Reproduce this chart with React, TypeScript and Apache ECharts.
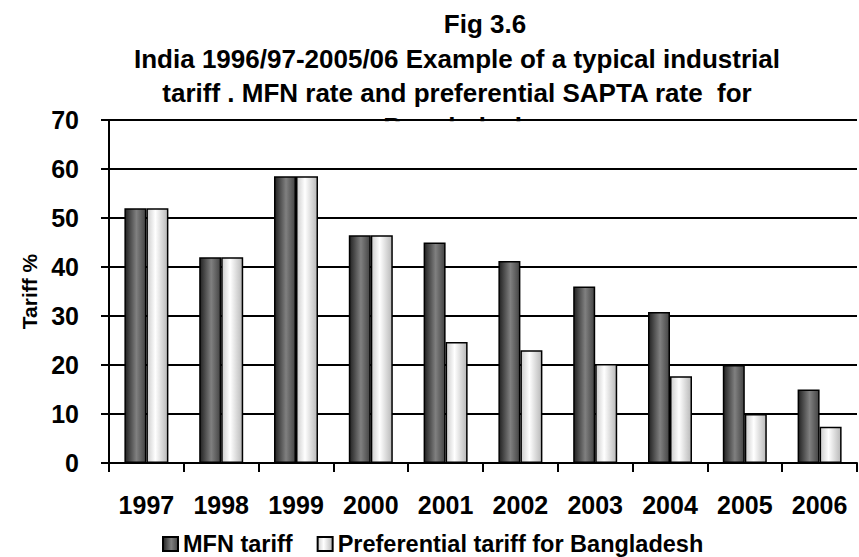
import React, { useEffect, useRef } from "react";
import * as echarts from "echarts";

const years = ["1997", "1998", "1999", "2000", "2001", "2002", "2003", "2004", "2005", "2006"];
const mfnTariff = [52, 42, 58.5, 46.5, 45, 41.2, 36, 30.8, 20, 15];
const prefTariff = [52, 42, 58.5, 46.5, 24.7, 23, 20.2, 17.7, 10, 7.4];
const seriesNames = ["MFN tariff", "Preferential tariff for Bangladesh"];
const titleTop = "Fig 3.6";
const titleBody =
  "India 1996/97-2005/06 Example of a typical industrial\ntariff . MFN rate and preferential SAPTA rate  for\nBangladesh";
const yAxisName = "Tariff %";

const FONT = "'Liberation Sans', Arial, Helvetica, sans-serif";

export default function App() {
  const ref = useRef<HTMLDivElement>(null);
  useEffect(() => {
    document.body.style.margin = "0";
    const chart = echarts.init(ref.current!, null, { renderer: "svg" });
    const mfnGrad = new echarts.graphic.LinearGradient(0, 0, 1, 0, [
      { offset: 0, color: "#222222" },
      { offset: 0.55, color: "#808080" },
      { offset: 1, color: "#444444" },
    ]);
    const prefGrad = new echarts.graphic.LinearGradient(0, 0, 1, 0, [
      { offset: 0, color: "#cccccc" },
      { offset: 0.4, color: "#ffffff" },
      { offset: 1, color: "#b8b8b8" },
    ]);
    const titleStyle = {
      fontSize: 26,
      fontWeight: "bold" as const,
      fontFamily: FONT,
      color: "#000",
      lineHeight: 34,
    };
    chart.setOption({
      animation: false,
      backgroundColor: "#fff",
      title: [
        { text: titleTop, left: 485, top: 7, padding: 0, textAlign: "center", textStyle: titleStyle },
        { text: titleBody, left: 457, top: 42, padding: 0, textAlign: "center", textStyle: titleStyle },
      ],
      graphic: [
        {
          type: "rect",
          z: 100,
          shape: { x: 111, y: 121.2, width: 745, height: 30 },
          style: { fill: "#fff" },
          silent: true,
        },
      ],
      grid: { left: 109, right: 2, top: 120, bottom: 94, containLabel: false },
      legend: {
        data: seriesNames,
        left: 162,
        top: 532,
        padding: 0,
        itemWidth: 15,
        itemHeight: 14,
        itemGap: 24,
        icon: "rect",
        textStyle: { fontSize: 23.5, fontWeight: "bold", fontFamily: FONT, color: "#000" },
      },
      xAxis: {
        type: "category",
        data: years,
        axisLine: { lineStyle: { color: "#000", width: 2 } },
        axisTick: { show: true, length: 9, lineStyle: { color: "#000", width: 2 } },
        axisLabel: { margin: 29, fontSize: 25, fontWeight: "bold", fontFamily: FONT, color: "#000" },
        splitLine: { show: false },
      },
      yAxis: {
        type: "value",
        min: 0,
        max: 70,
        interval: 10,
        name: yAxisName,
        nameLocation: "middle",
        nameRotate: 90,
        nameGap: 68,
        nameTextStyle: { fontSize: 21, fontWeight: "bold", fontFamily: FONT, color: "#000" },
        axisLine: { show: true, lineStyle: { color: "#000", width: 2 } },
        axisTick: { show: true, length: 8, lineStyle: { color: "#000", width: 2 } },
        axisLabel: { margin: 30, fontSize: 25, fontWeight: "bold", fontFamily: FONT, color: "#000" },
        splitLine: { show: true, lineStyle: { color: "#000", width: 2 } },
      },
      series: [
        {
          type: "bar",
          name: seriesNames[0],
          data: mfnTariff,
          barWidth: 22,
          barGap: "0%",
          itemStyle: { color: mfnGrad, borderColor: "#000", borderWidth: 1.5 },
        },
        {
          type: "bar",
          name: seriesNames[1],
          data: prefTariff,
          barWidth: 22,
          barGap: "0%",
          itemStyle: { color: prefGrad, borderColor: "#000", borderWidth: 1.5 },
        },
      ],
    });
    return () => chart.dispose();
  }, []);
  return <div ref={ref} style={{ width: 859, height: 557 }} />;
}
